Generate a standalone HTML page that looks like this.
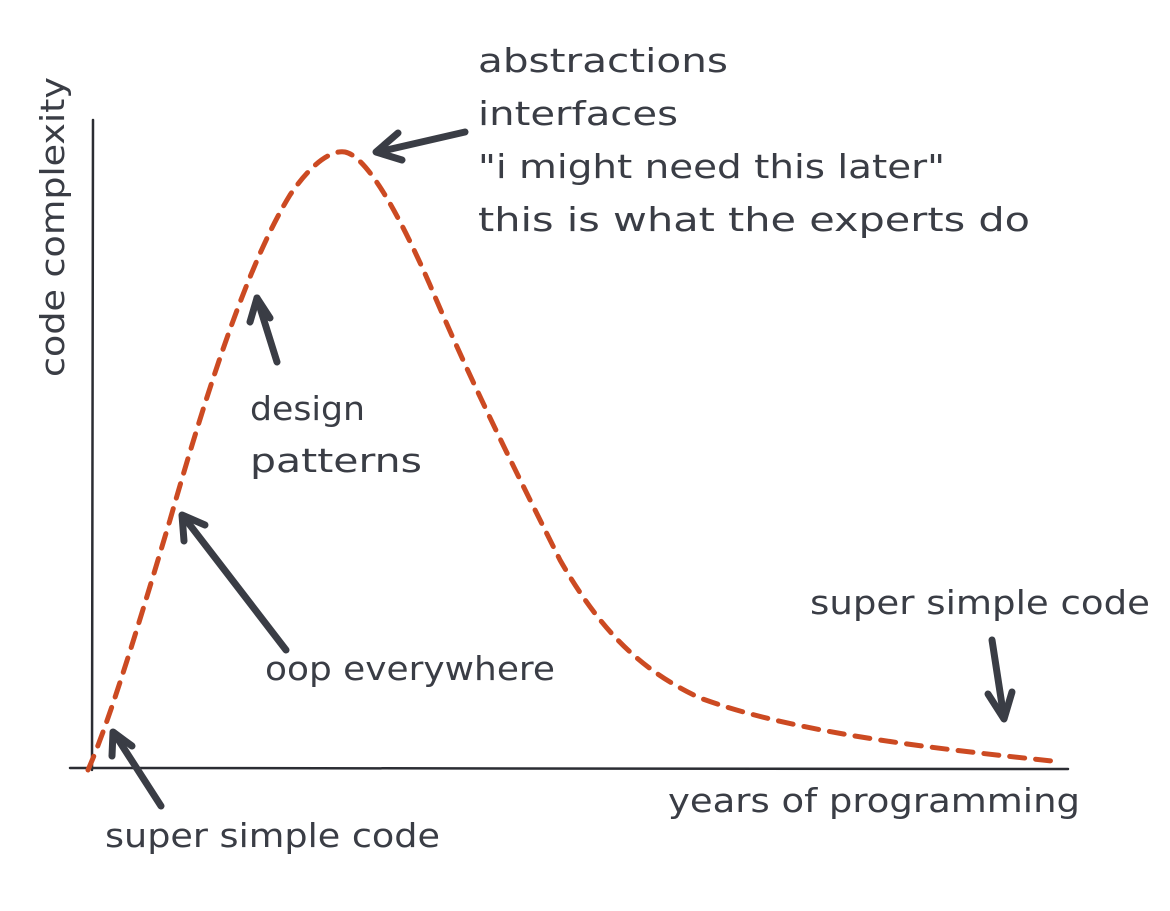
<!DOCTYPE html>
<html><head><meta charset="utf-8"><style>
html,body{margin:0;padding:0;background:#fff;}
svg{display:block}
text{font-family:"DejaVu Sans","Liberation Sans",sans-serif;fill:#3a3d45;font-size:33px;}
</style></head><body>
<svg width="1170" height="911" viewBox="0 0 1170 911" xmlns="http://www.w3.org/2000/svg">
<rect width="1170" height="911" fill="#fff"/>
<g stroke="#2b2d33" stroke-width="2.5" fill="none" stroke-linecap="round">
<path d="M93 120 L92 770"/>
<path d="M70 768 L1068 769"/>
</g>
<path d="M88 770 C 110 720, 140 620, 170 520 C 210 380, 250 260, 290 195 C 315 158, 335 150, 345 152 C 365 156, 395 205, 430 285 C 470 380, 520 480, 560 560 C 600 630, 640 670, 700 698 C 800 735, 950 750, 1052 761"
 stroke="#cc4a22" stroke-width="5" fill="none" stroke-dasharray="15 11" stroke-linecap="round"/>
<g stroke="#3a3d45" stroke-width="7" fill="none" stroke-linecap="round" stroke-linejoin="round">
<path d="M465 132 L378 152"/><path d="M398 133 L376 152 L402 160"/>
<path d="M277 362 L257 298"/><path d="M250 322 L257 298 L270 318"/>
<path d="M286 650 L183 516"/><path d="M184 541 L182 515 L205 525"/>
<path d="M161 806 L114 733"/><path d="M112 756 L113 732 L132 746"/>
<path d="M992 640 L1004 718"/><path d="M988 694 L1004 719 L1012 692"/>
</g>
<text x="478" y="72" textLength="250" lengthAdjust="spacingAndGlyphs">abstractions</text>
<text x="478" y="125" textLength="200" lengthAdjust="spacingAndGlyphs">interfaces</text>
<text x="478" y="178" textLength="467" lengthAdjust="spacingAndGlyphs">"i might need this later"</text>
<text x="478" y="231" textLength="552" lengthAdjust="spacingAndGlyphs">this is what the experts do</text>
<text x="250" y="420" textLength="115" lengthAdjust="spacingAndGlyphs">design</text>
<text x="250" y="472" textLength="172" lengthAdjust="spacingAndGlyphs">patterns</text>
<text x="265" y="680" textLength="290" lengthAdjust="spacingAndGlyphs">oop everywhere</text>
<text x="810" y="614" textLength="340" lengthAdjust="spacingAndGlyphs">super simple code</text>
<text x="105" y="847" textLength="335" lengthAdjust="spacingAndGlyphs">super simple code</text>
<text x="668" y="812" textLength="412" lengthAdjust="spacingAndGlyphs">years of programming</text>
<text transform="translate(64 377) rotate(-90)" textLength="300" lengthAdjust="spacingAndGlyphs">code complexity</text>
</svg>
</body></html>
